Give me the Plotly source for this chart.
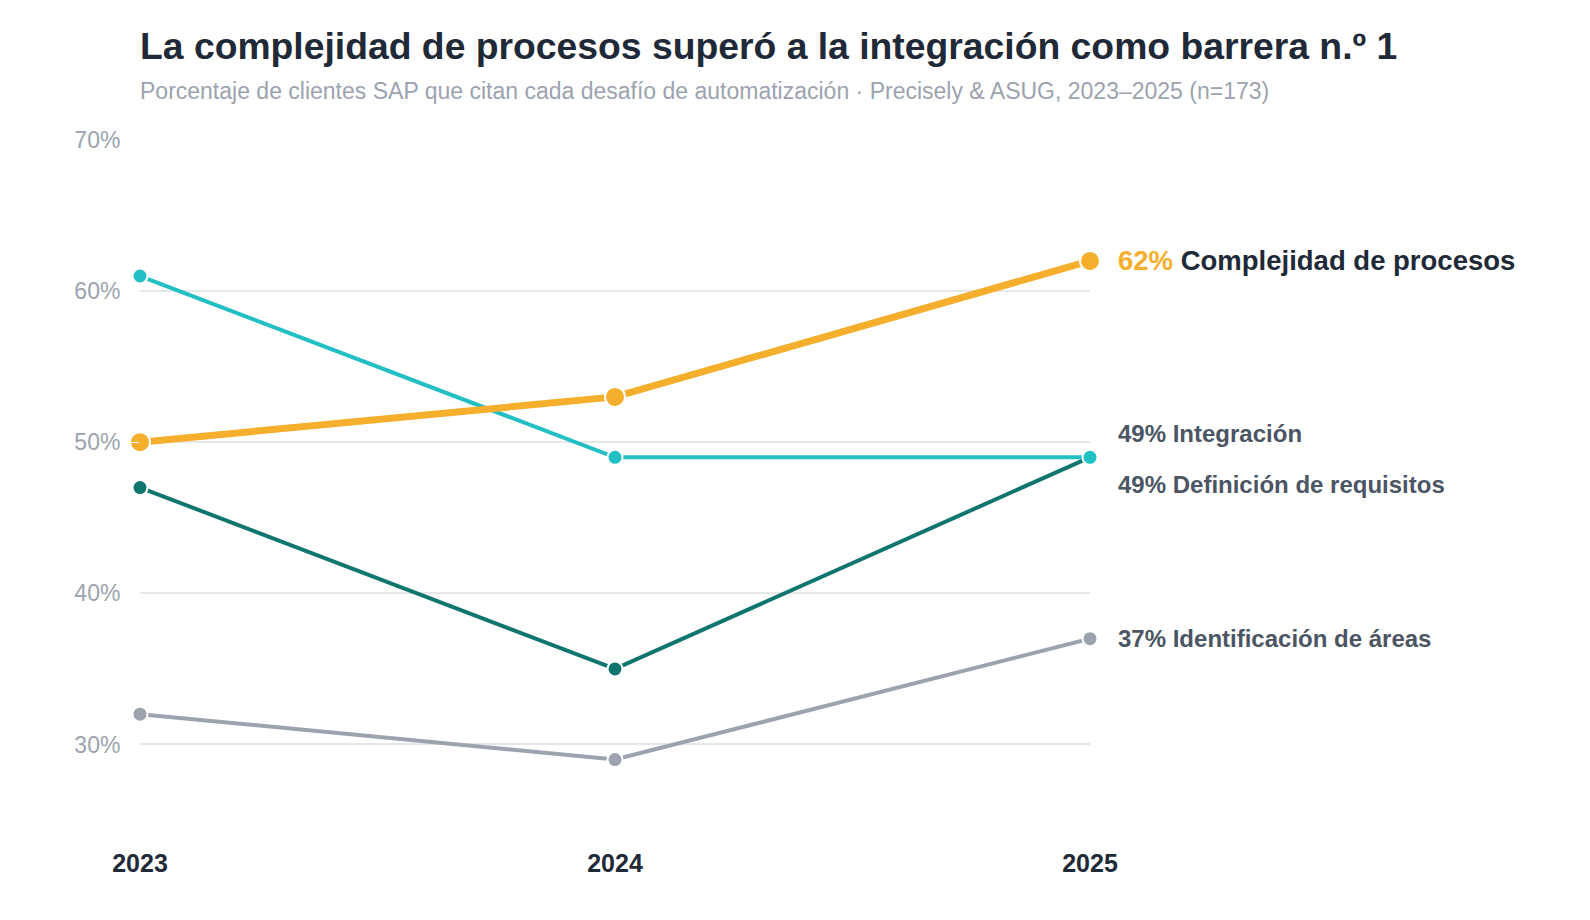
import plotly.graph_objects as go

# Data
years = [2023, 2024, 2025]
complejidad = [50, 53, 62]
integracion = [61, 49, 49]
definicion = [47, 35, 49]
identificacion = [32, 29, 37]

series_names = ["Complejidad de procesos", "Integración",
                "Definición de requisitos", "Identificación de áreas"]
series_values = [complejidad, integracion, definicion, identificacion]
series_colors = ["#F6AE2D", "#22BFC4", "#0F766E", "#9CA3AF"]
line_widths = [7, 4, 4, 4]
marker_sizes = [20, 15, 15, 15]
label_shift = [0, 24, -27, 0]

y_ticks = [30, 40, 50, 60, 70]
y_ticktext = ["30%", "40%", "50%", "60%", "70%"]

fig = go.Figure()

# draw the highlighted series last so it sits on top
order = [3, 2, 1, 0]
for i in order:
    fig.add_trace(go.Scatter(
        x=years, y=series_values[i],
        mode="lines+markers",
        name=series_names[i],
        line=dict(color=series_colors[i], width=line_widths[i]),
        marker=dict(size=marker_sizes[i], color=series_colors[i],
                    line=dict(color="white", width=2)),
        cliponaxis=False,
        hovertemplate="%{y}%<extra>" + series_names[i] + "</extra>",
    ))

# end labels
for i in range(4):
    v = series_values[i][-1]
    if i == 0:
        txt = ("<span style='color:%s'>%d%%</span> "
               "<span style='color:#1F2937'>%s</span>" % (series_colors[0], v, series_names[i]))
        size = 27.5
    else:
        txt = "%d%% %s" % (v, series_names[i])
        size = 24
    fig.add_annotation(
        x=years[-1], y=v, xref="x", yref="y",
        text="<b>" + txt + "</b>",
        showarrow=False, xanchor="left", yanchor="middle",
        xshift=26, yshift=label_shift[i],
        font=dict(family="Liberation Sans, Arial, sans-serif", size=size, color="#4B5563"),
    )

# subtitle
fig.add_annotation(
    x=0, y=1.072, xref="paper", yref="paper",
    text="Porcentaje de clientes SAP que citan cada desafío de automatización · "
         "Precisely &amp; ASUG, 2023–2025 (n=173)",
    showarrow=False, xanchor="left", yanchor="middle", xshift=-2,
    font=dict(family="Liberation Sans, Arial, sans-serif", size=23, color="#9CA3AF"),
)

fig.update_layout(
    width=1590, height=920,
    paper_bgcolor="white", plot_bgcolor="white",
    showlegend=False,
    margin=dict(l=132, r=508, t=132, b=108),
    font=dict(family="Liberation Sans, Arial, sans-serif"),
    title=dict(
        text="<b>La complejidad de procesos superó a la integración como barrera n.º 1</b>",
        x=132 / 1590, xanchor="left", xref="container",
        y=1 - 38 / 920, yanchor="middle", yref="container",
        font=dict(size=37.3, color="#1F2937"),
    ),
    xaxis=dict(
        range=[2023, 2025], tickvals=years,
        ticktext=["<b>%d</b>" % y for y in years],
        showgrid=False, zeroline=False, showline=False,
        tickfont=dict(size=25, color="#1F2937"),
        ticks="outside", ticklen=21, tickcolor="white",
    ),
    yaxis=dict(
        range=[25, 70], tickvals=y_ticks, ticktext=y_ticktext,
        showgrid=True, gridcolor="#E5E7EB", gridwidth=1.5,
        zeroline=False, showline=False,
        tickfont=dict(size=23, color="#9CA3AF"),
        ticks="outside", ticklen=14, tickcolor="white",
    ),
)

fig.write_html("out.html")
